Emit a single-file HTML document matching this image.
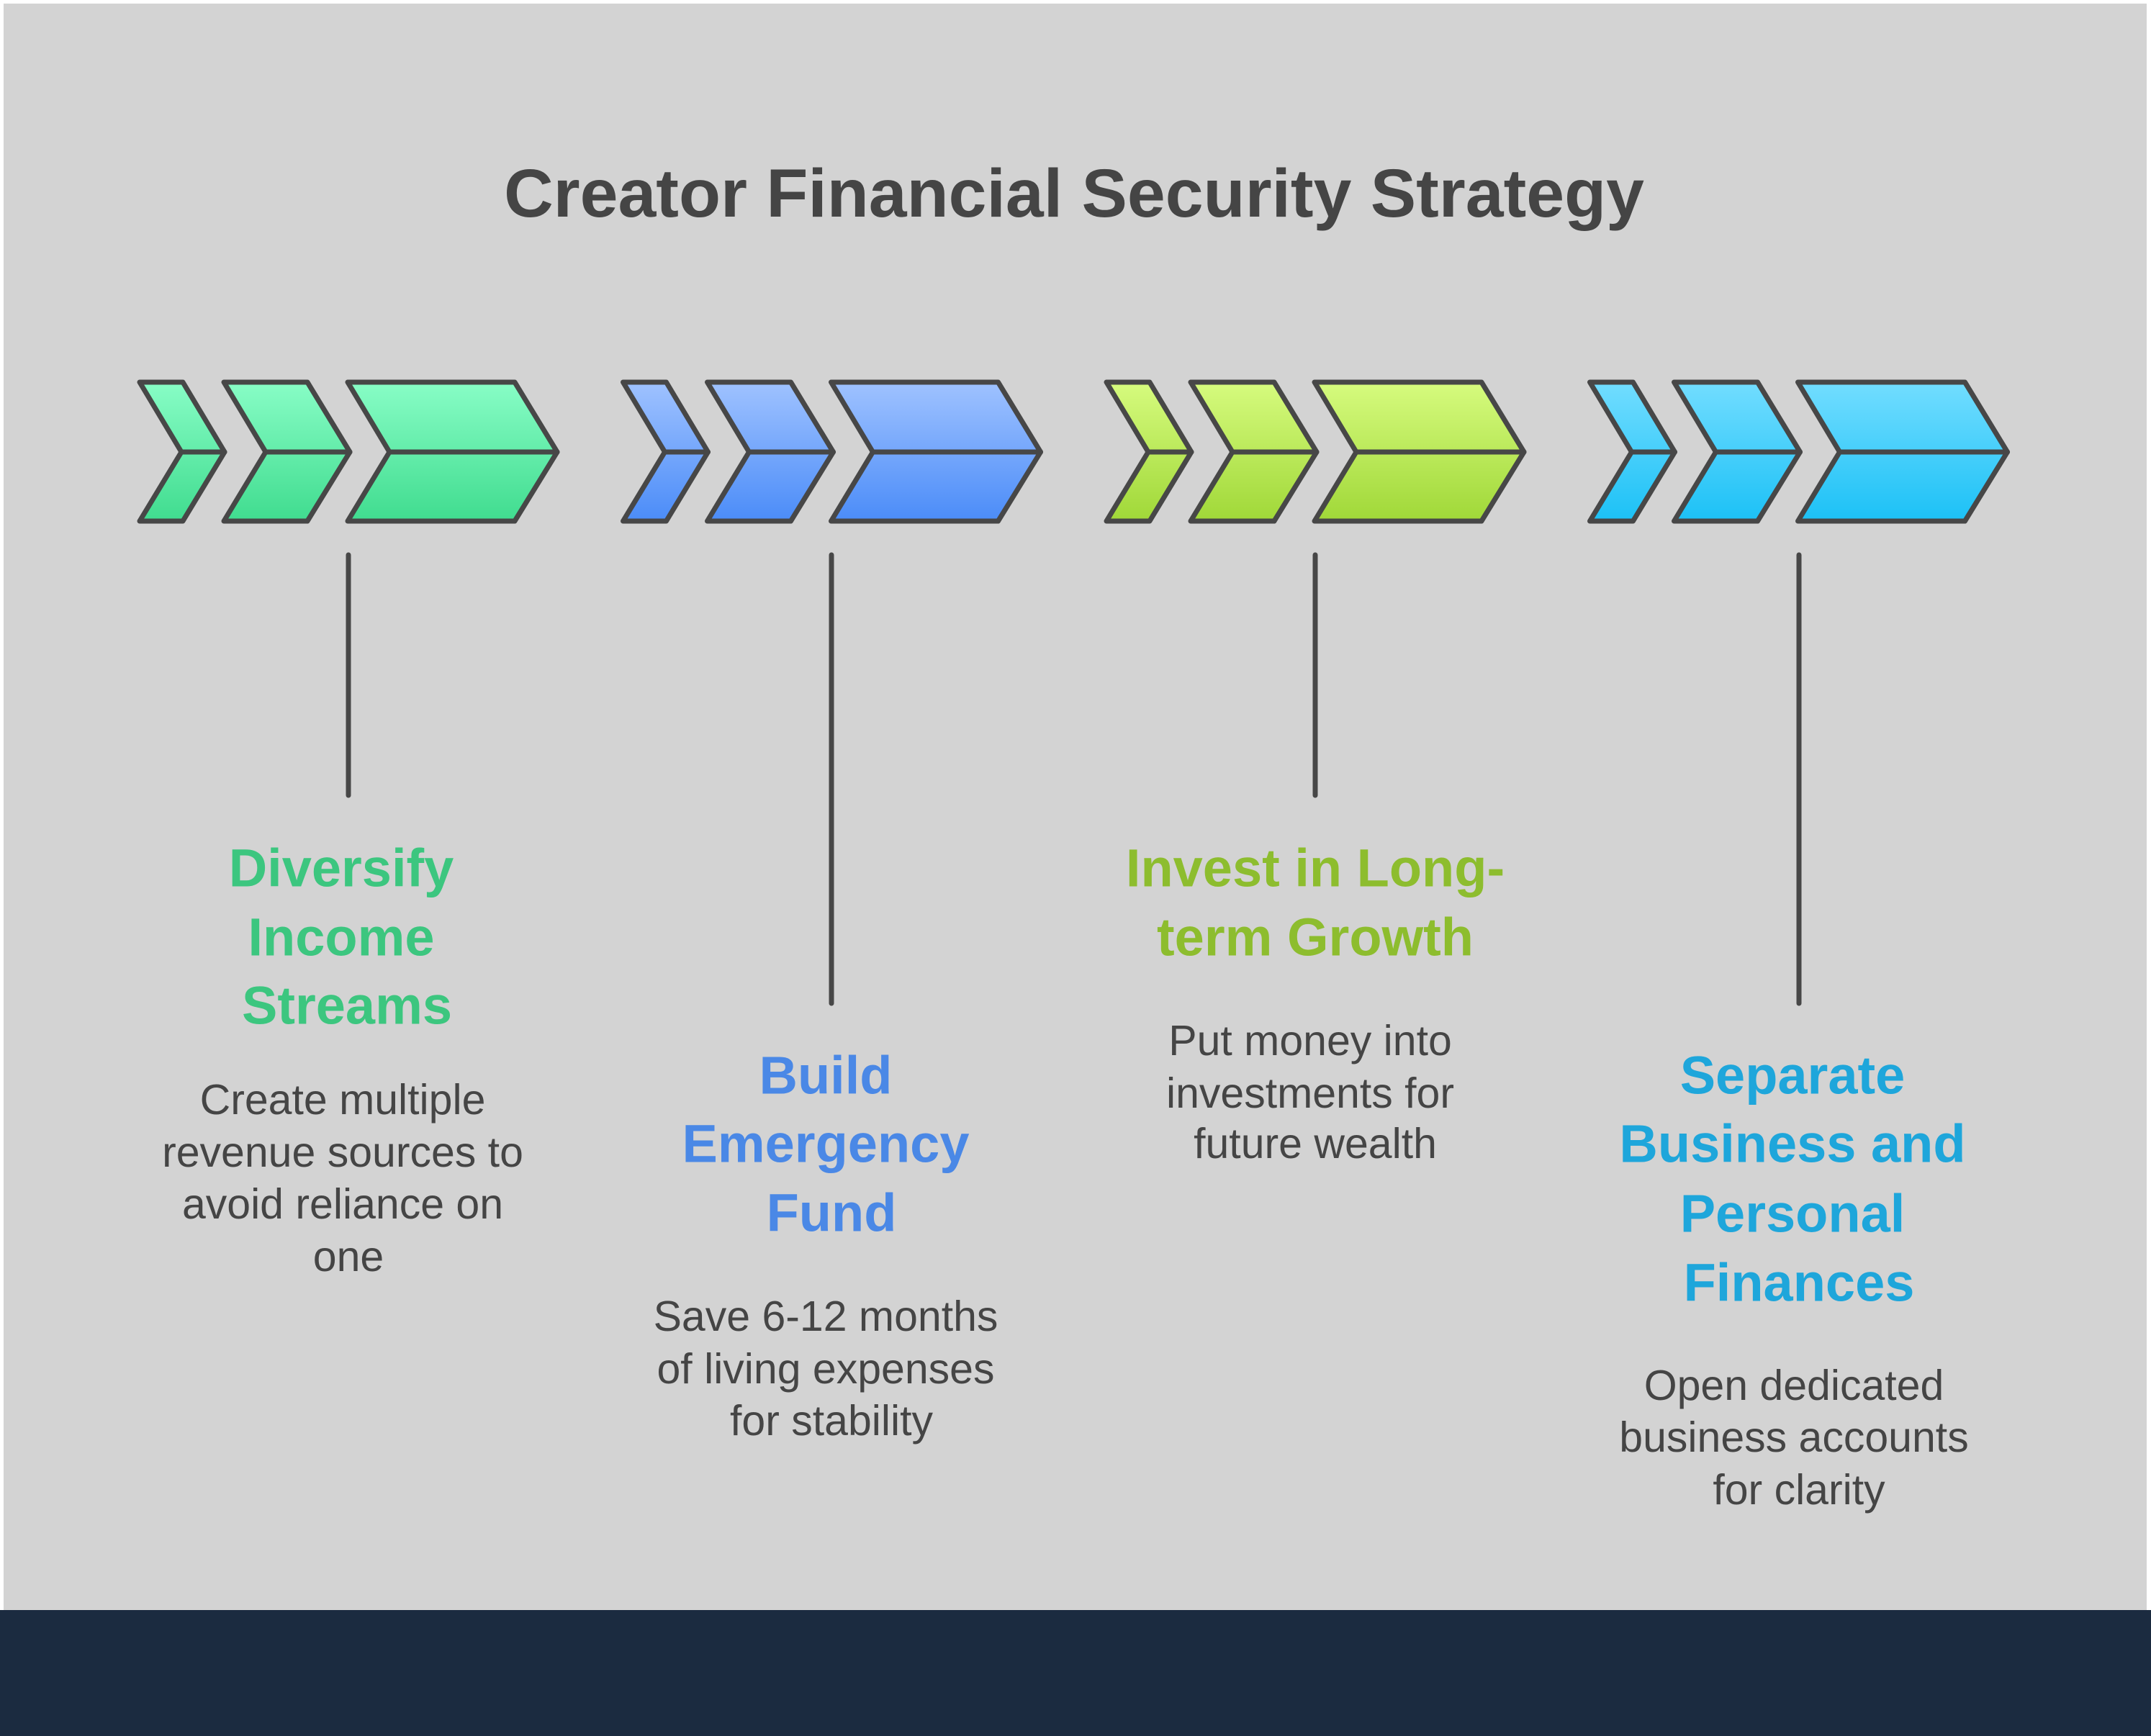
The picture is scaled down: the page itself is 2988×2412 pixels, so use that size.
<!DOCTYPE html>
<html><head><meta charset="utf-8"><style>
html,body{margin:0;padding:0;background:#fff}
svg{display:block}
text{font-family:"Liberation Sans",sans-serif}
</style></head><body>
<svg width="2988" height="2412" viewBox="0 0 2988 2412" xmlns="http://www.w3.org/2000/svg">
<defs>
<linearGradient id="gG" x1="0" y1="0" x2="0" y2="1"><stop offset="0" stop-color="#88fdc6"/><stop offset="1" stop-color="#40dc8f"/></linearGradient>
<linearGradient id="gB" x1="0" y1="0" x2="0" y2="1"><stop offset="0" stop-color="#9fc2ff"/><stop offset="1" stop-color="#4b8cf8"/></linearGradient>
<linearGradient id="gL" x1="0" y1="0" x2="0" y2="1"><stop offset="0" stop-color="#d6fb7e"/><stop offset="1" stop-color="#a0d838"/></linearGradient>
<linearGradient id="gC" x1="0" y1="0" x2="0" y2="1"><stop offset="0" stop-color="#72ddff"/><stop offset="1" stop-color="#1cc1f6"/></linearGradient>
<g id="chev" stroke="#474747" stroke-width="7" stroke-linejoin="round" stroke-linecap="round">
<polygon points="194,531 254,531 312,628 254,724 194,724 252,628"/>
<line x1="252" y1="628" x2="312" y2="628"/>
<polygon points="311,531 427,531 486,628 427,724 311,724 369,628"/>
<line x1="369" y1="628" x2="486" y2="628"/>
<polygon points="483,531 715,531 774,628 715,724 483,724 541,628"/>
<line x1="541" y1="628" x2="774" y2="628"/>
</g>
</defs>
<rect x="0" y="0" width="2988" height="2412" fill="#ffffff"/>
<rect x="5" y="5" width="2977" height="2332" fill="#d3d3d3"/>
<rect x="0" y="2237" width="2988" height="175" fill="#1b2b40"/>

<text x="1492" y="269" text-anchor="middle" dominant-baseline="central" font-size="95" font-weight="bold" fill="#454545">Creator Financial Security Strategy</text>

<use href="#chev" fill="url(#gG)"/>
<use href="#chev" fill="url(#gB)" transform="translate(671.5,0)"/>
<use href="#chev" fill="url(#gL)" transform="translate(1343,0)"/>
<use href="#chev" fill="url(#gC)" transform="translate(2014.5,0)"/>

<g stroke="#474747" stroke-width="7" stroke-linecap="round">
<line x1="484" y1="771" x2="484" y2="1105"/>
<line x1="1155" y1="771" x2="1155" y2="1394"/>
<line x1="1827" y1="771" x2="1827" y2="1105"/>
<line x1="2499" y1="771" x2="2499" y2="1394"/>
</g>

<g font-size="74" font-weight="bold" text-anchor="middle" dominant-baseline="central">
<g fill="#3cc67f">
<text x="474" y="1206">Diversify</text>
<text x="474" y="1302">Income</text>
<text x="482" y="1397">Streams</text>
</g>
<g fill="#4a88e6">
<text x="1147" y="1494">Build</text>
<text x="1147" y="1589">Emergency</text>
<text x="1155" y="1685">Fund</text>
</g>
<g fill="#8dbd2e">
<text x="1827" y="1206">Invest in Long-</text>
<text x="1827" y="1302">term Growth</text>
</g>
<g fill="#1ea6db">
<text x="2490" y="1494">Separate</text>
<text x="2490" y="1589">Business and</text>
<text x="2490" y="1686">Personal</text>
<text x="2499" y="1782">Finances</text>
</g>
</g>

<g font-size="59" fill="#454545" text-anchor="middle" dominant-baseline="central">
<text x="476" y="1528">Create multiple</text>
<text x="476" y="1601">revenue sources to</text>
<text x="476" y="1673">avoid reliance on</text>
<text x="484" y="1746">one</text>
<text x="1147" y="1829">Save 6-12 months</text>
<text x="1147" y="1902">of living expenses</text>
<text x="1155" y="1974">for stability</text>
<text x="1820" y="1446">Put money into</text>
<text x="1820" y="1519">investments for</text>
<text x="1827" y="1589">future wealth</text>
<text x="2492" y="1925">Open dedicated</text>
<text x="2492" y="1997">business accounts</text>
<text x="2499" y="2070">for clarity</text>
</g>
</svg>
</body></html>
